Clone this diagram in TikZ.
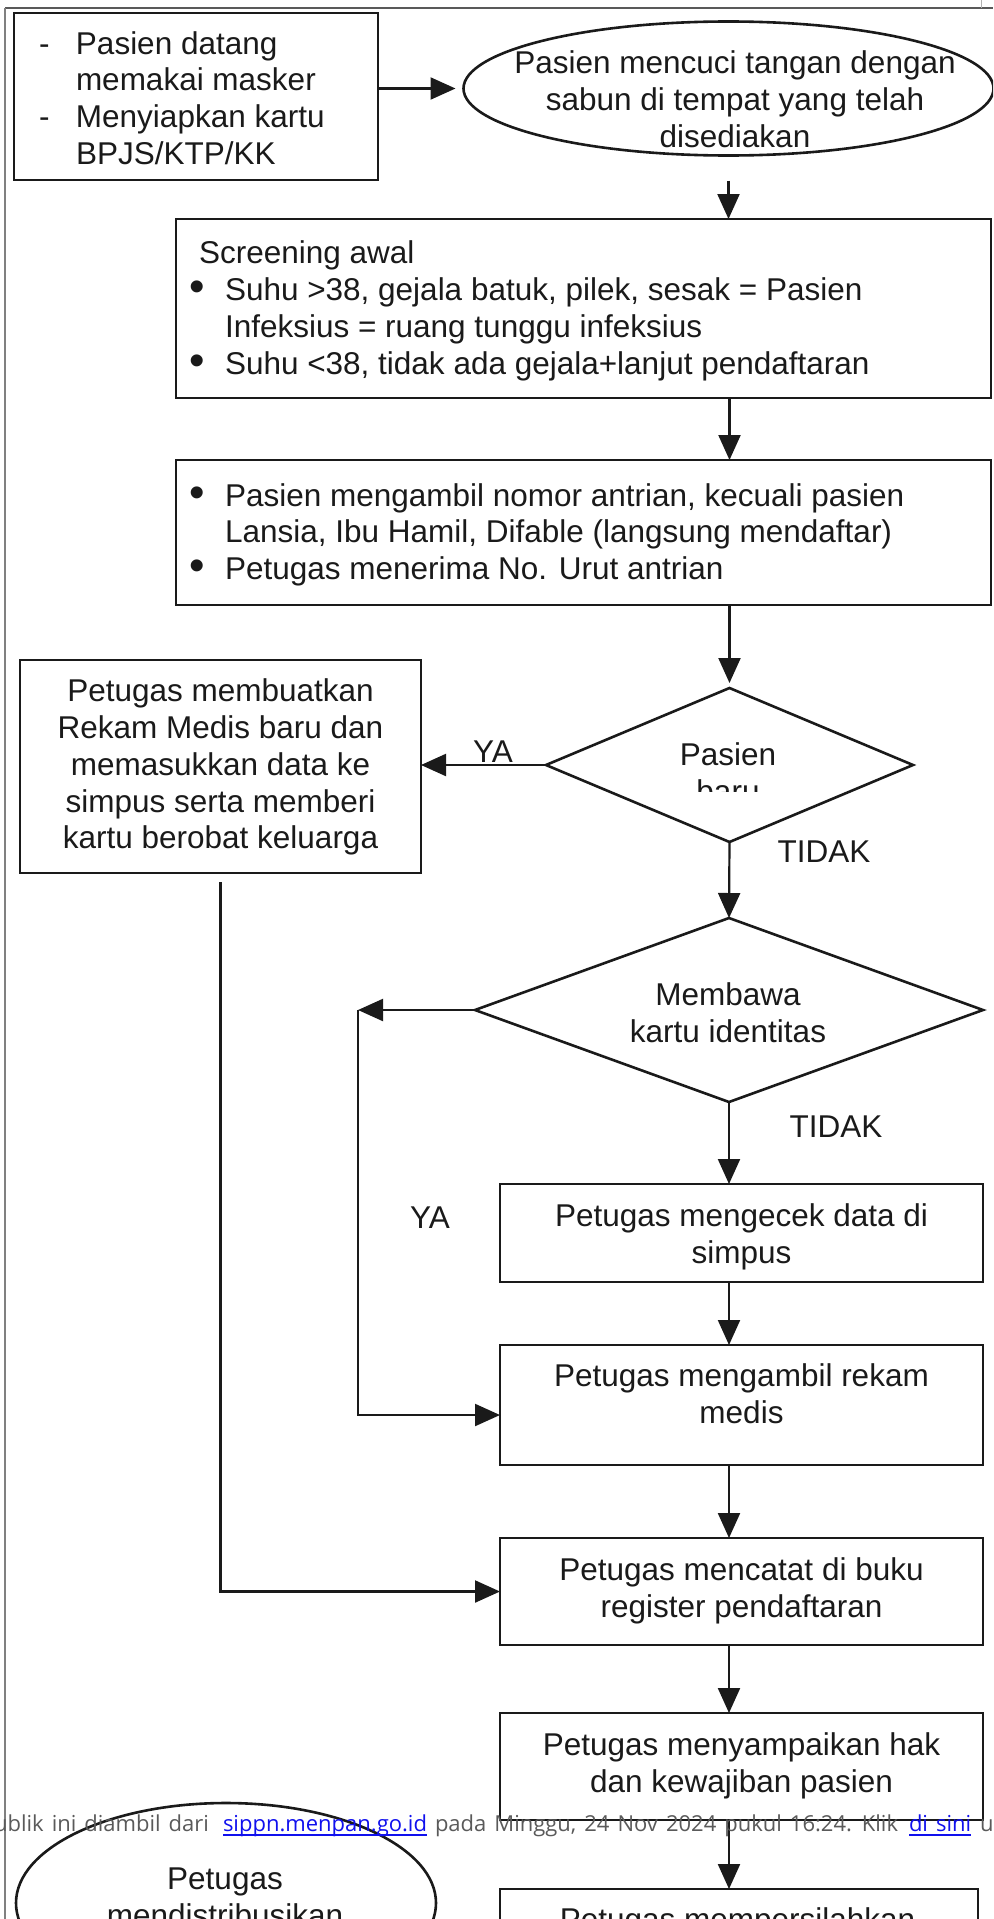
\documentclass[tikz,border=0pt]{standalone}
\usepackage{fontspec}
\usepackage{graphicx}
\setmainfont{Liberation Sans}
\newfontfamily\wmfont{Open Sans}
\usetikzlibrary{shapes.geometric, arrows.meta, calc}
\newcommand\mainsz{\fontsize{31.5pt}{36.8pt}\selectfont}
\newcommand\wmsz{\fontsize{22pt}{26pt}\selectfont\spaceskip=8pt plus 1pt}
\newcommand\tbc[1]{\begin{tabular}{@{}c@{}}#1\end{tabular}}
\newcommand\tbl[1]{\begin{tabular}{@{}l@{}}#1\end{tabular}}
\newcommand\bul{\makebox[36pt][l]{\raisebox{-1pt}{\scalebox{1.4}{\textbullet}}}}
\newcommand\dsh{\makebox[37pt][l]{-}}
\definecolor{ink}{HTML}{1A1A1A}
\definecolor{wmgray}{HTML}{5A5A5A}
\definecolor{linkblue}{HTML}{1010EE}
\begin{document}
\begin{tikzpicture}[x=1pt, y=-1pt,
  shp/.style={draw=ink, line width=2.6pt, inner sep=0pt, outer sep=0pt},
  boxn/.style={shp, rectangle},
  ellx/.style={shp, ellipse},
  dia/.style={shp, diamond},
  lab/.style={inner sep=0pt, outer sep=0pt, text=ink, font=\mainsz},
  wm/.style={inner sep=0pt, outer sep=0pt, font=\wmfont\wmsz},
  arr/.style={draw=ink, line width=2.2pt, -{Triangle[length=25pt,width=22pt]}},
  framel/.style={line width=2.2pt}
]
\useasboundingbox (0,0) rectangle (993,1919);
\clip (0,0) rectangle (993,1919);
\fill[white] (0,0) rectangle (993,1919);

% page frame
\draw[framel, draw=black!65] (5,8) -- (993,8);
\draw[framel, draw=black!50] (5,8) -- (5,1919);
\draw[line width=1pt, black!30] (981,0) -- (981,8);

% shapes and texts
\node[boxn, minimum width=364pt, minimum height=167pt] (b1) at (196,96.5) {};
\node[lab, anchor=west] (t1) at ([shift={(25,5.5)}]b1.west) {\tbl{\dsh Pasien datang\\ \hspace*{37pt}memakai masker\\ \dsh Menyiapkan kartu\\ \hspace*{37pt}BPJS/KTP/KK}};

\node[ellx, minimum width=530pt, minimum height=134pt] (e1) at (728.5,88.5) {};
\node[lab] (t2) at ([shift={(6.5,14.5)}]e1.center) {\tbc{Pasien mencuci tangan dengan\\ sabun di tempat yang telah\\ disediakan}};

\node[boxn, minimum width=815pt, minimum height=179pt] (b2) at (583.5,308.5) {};
\node[lab, anchor=west] (t3) at ([shift={(13,3)}]b2.west) {\tbl{\hspace*{10pt}Screening awal\\ \bul Suhu >38, gejala batuk, pilek, sesak = Pasien\\ \hspace*{36pt}Infeksius = ruang tunggu infeksius\\ \bul Suhu <38, tidak ada gejala+lanjut pendaftaran}};

\node[boxn, minimum width=815pt, minimum height=145pt] (b3) at (583.5,532.5) {};
\node[lab, anchor=west] (t4) at ([shift={(13,3)}]b3.west) {\tbl{\bul Pasien mengambil nomor antrian, kecuali pasien\\ \hspace*{36pt}Lansia, Ibu Hamil, Difable (langsung mendaftar)\\ \bul Petugas menerima No. Urut antrian}};

\node[dia, minimum width=367pt, minimum height=154pt] (d1) at (729.5,765) {};
\begin{scope}
  \clip (600,730) rectangle (860,791);
  \node[lab] (t5) at ([shift={(-1.5,12)}]d1.center) {\tbc{Pasien\\ baru}};
\end{scope}

\node[boxn, minimum width=401pt, minimum height=213pt] (b4) at (220.5,766.5) {};
\node[lab] (t6) at ([shift={(0,1.5)}]b4.center) {\tbc{Petugas membuatkan\\ Rekam Medis baru dan\\ memasukkan data ke\\ simpus serta memberi\\ kartu berobat keluarga}};

\node[dia, minimum width=508pt, minimum height=184pt] (d2) at (729,1010) {};
\node[lab] (t7) at ([shift={(-1,6.5)}]d2.center) {\tbc{Membawa\\ kartu identitas}};

\node[boxn, minimum width=483pt, minimum height=98pt] (b5) at (741.5,1233) {};
\node[lab] (t8) at ([shift={(0,5)}]b5.center) {\tbc{Petugas mengecek data di\\ simpus}};

\node[boxn, minimum width=483pt, minimum height=120pt] (b6) at (741.5,1405) {};
\node[lab] (t9) at ([shift={(0,-7.5)}]b6.center) {\tbc{Petugas mengambil rekam\\ medis}};

\node[boxn, minimum width=483pt, minimum height=107pt] (b7) at (741.5,1591.5) {};
\node[lab] (t10) at ([shift={(0,0.5)}]b7.center) {\tbc{Petugas mencatat di buku\\ register pendaftaran}};

\node[boxn, minimum width=483pt, minimum height=107pt] (b8) at (741.5,1766.5) {};
\node[lab] (t11) at (b8.center) {\tbc{Petugas menyampaikan hak\\ dan kewajiban pasien}};

\node[boxn, minimum width=478pt, minimum height=107pt] (b9) at (739,1942.5) {};
\node[lab] (t12) at ([shift={(-1.5,-19.5)}]b9.center) {\tbc{Petugas mempersilahkan}};

\node[ellx, minimum width=420pt, minimum height=200pt] (e2) at (226,1903) {};
\node[lab] (t13) at ([shift={(-1,-2.5)}]e2.center) {\tbc{Petugas\\ mendistribusikan}};

% branch labels
\node[lab] (ya1) at (493,752) {YA};
\node[lab] (td1) at (824,852) {TIDAK};
\node[lab] (td2) at (836,1127) {TIDAK};
\node[lab] (ya2) at (430,1218) {YA};

% connectors
\coordinate (c1) at ($(d2.west)+(-117,0)$);
\draw[arr] (b1.east |- e1.west) -- ([xshift=-8pt]e1.west);
\draw[arr, shorten <=25pt] (e1.south) -- (e1.south |- b2.north);
\draw[arr] (b2.south -| d1.north) -- (b3.north -| d1.north);
\draw[arr, shorten >=5pt] (b3.south -| d1.north) -- (d1.north);
\draw[arr] (d1.west) -- (d1.west -| b4.east);
\draw[arr] (d1.south) -- (d2.north);
\draw[arr] (d2.west) -- (c1);
\draw[arr] (c1) |- ([yshift=-10pt]b6.west);
\draw[arr, shorten <=9pt] (b4.south) |- (b7.west);
\draw[arr] (d2.south) -- (d2.south |- b5.north);
\draw[arr] (b5.south -| d2.south) -- (b6.north -| d2.south);
\draw[arr] (b6.south -| d2.south) -- (b7.north -| d2.south);
\draw[arr] (b7.south -| d2.south) -- (b8.north -| d2.south);
\draw[arr] (b8.south -| d2.south) -- (b9.north -| d2.south);

% watermark line
\node[wm, text=wmgray, anchor=base east] (w1) at (209,1831) {ublik ini diambil dari};
\node[wm, text=linkblue, anchor=base west] (w2) at (223,1831) {sippn.menpan.go.id};
\node[wm, text=wmgray, anchor=base west] (w3) at (435,1831) {pada Minggu, 24 Nov 2024 pukul 16:24. Klik};
\node[wm, text=linkblue, anchor=base west] (w4) at (909,1831) {di sini};
\node[wm, text=wmgray, anchor=base west] (w5) at (980,1831) {u};
\draw[linkblue, line width=1.3pt] ([yshift=-4pt]w2.base west) -- ([yshift=-4pt]w2.base east);
\draw[linkblue, line width=1.3pt] ([yshift=-4pt]w4.base west) -- ([yshift=-4pt]w4.base east);
\end{tikzpicture}
\end{document}
